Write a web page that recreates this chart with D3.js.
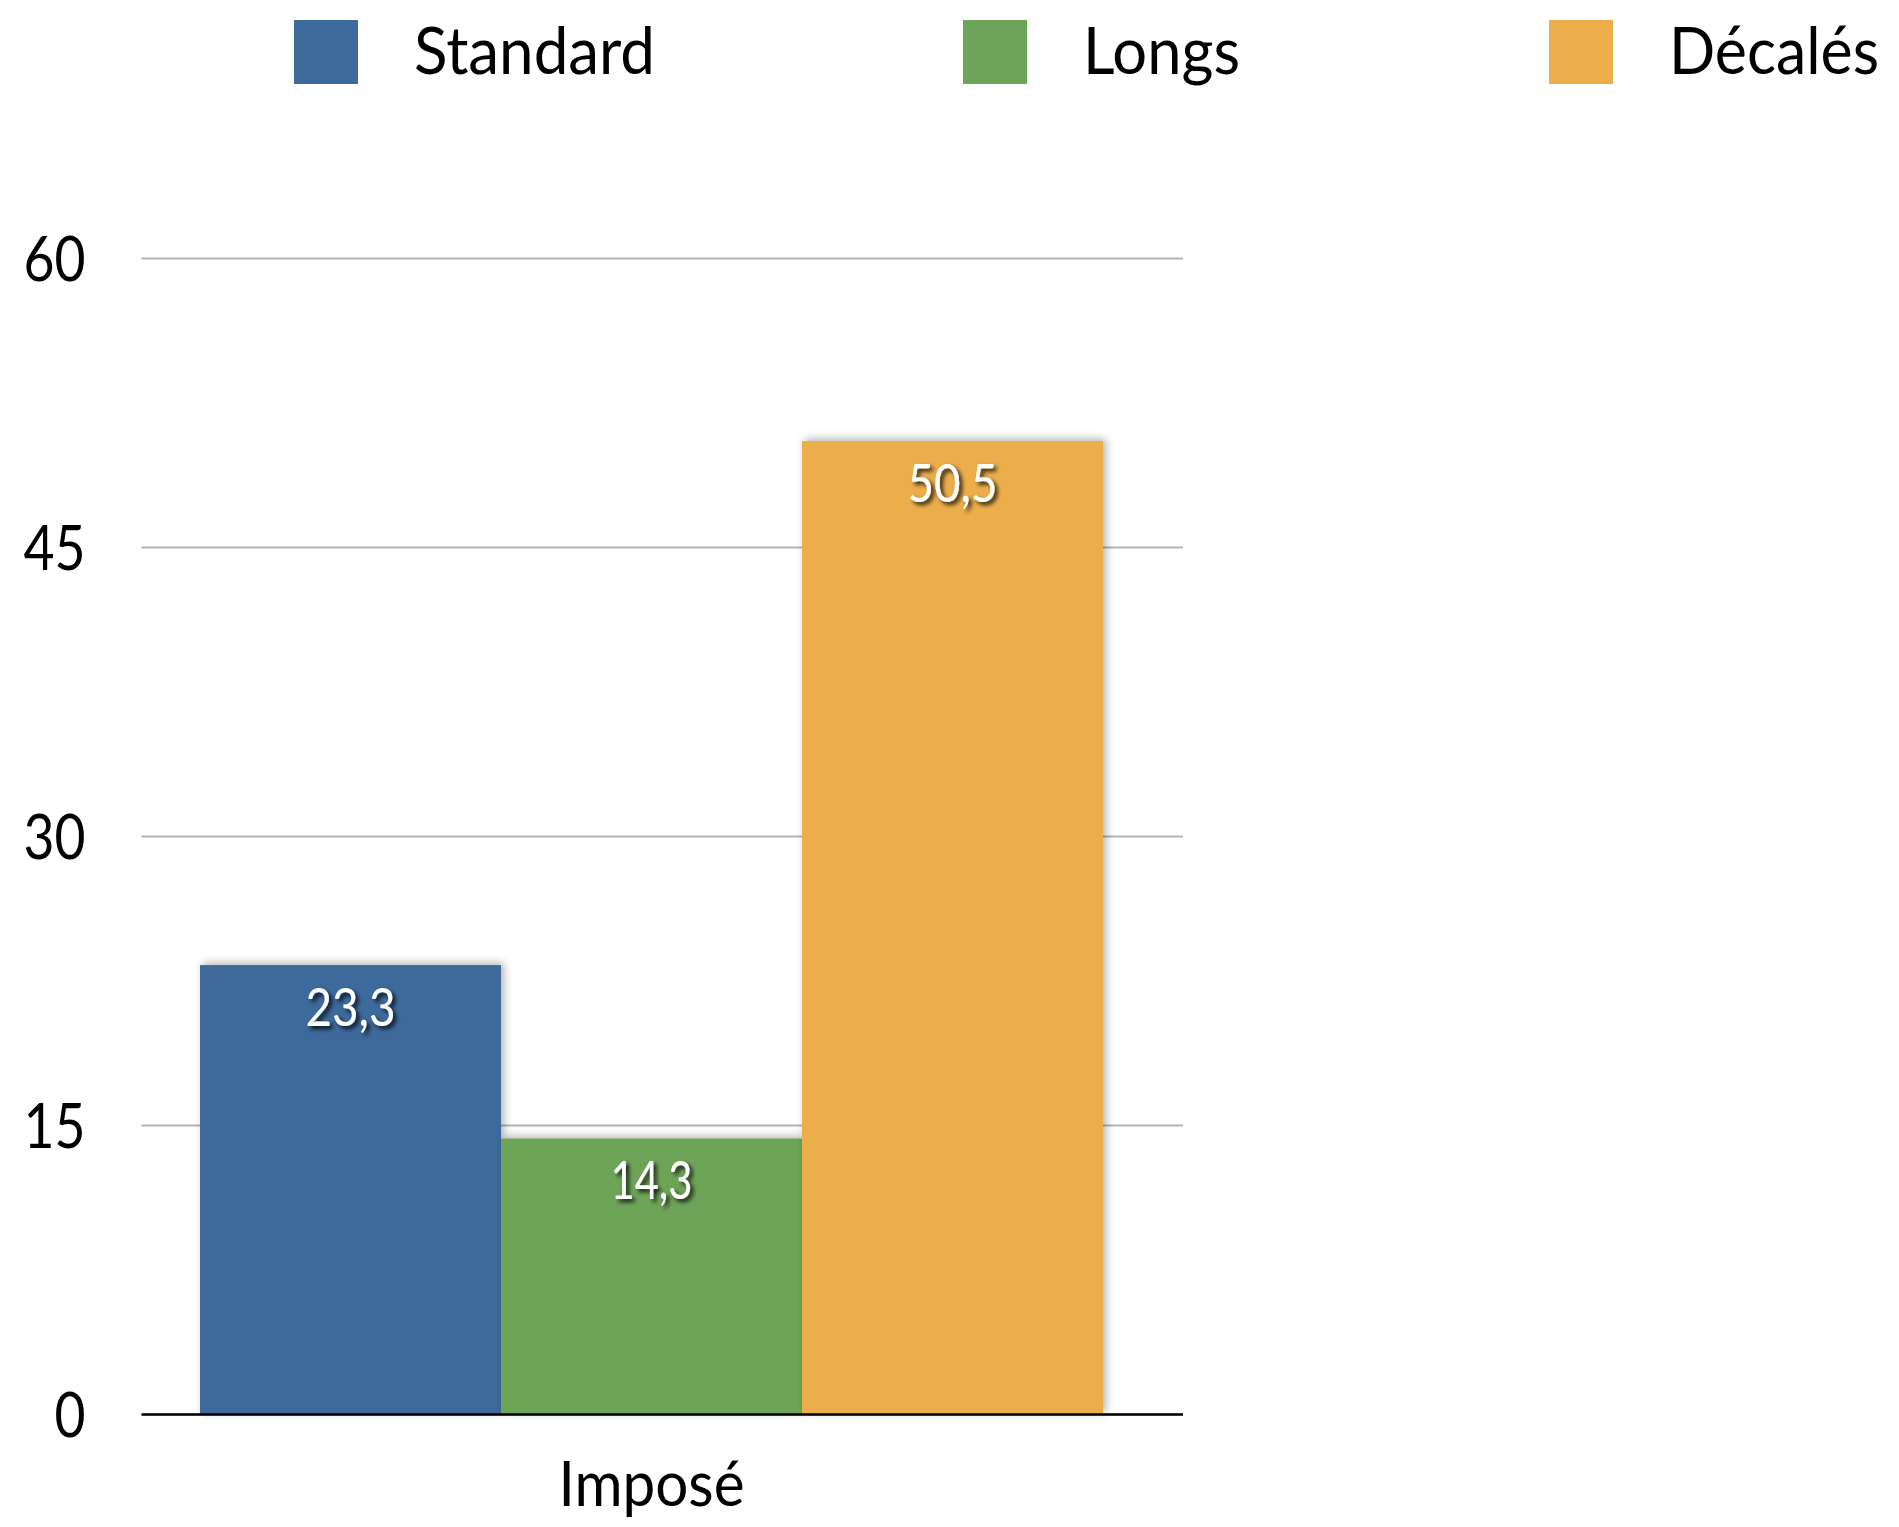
<!DOCTYPE html>
<html>
<head>
<meta charset="utf-8">
<script src="https://cdn.jsdelivr.net/npm/d3@7"></script>
<style>
  html, body { margin: 0; padding: 0; background: #ffffff; }
  svg { display: block; }
  text { font-family: Lato, "Open Sans", sans-serif; }
</style>
</head>
<body>
<svg id="chart" width="1899" height="1527"></svg>
<script>
// ---- data ----
const categories = ["Imposé"];
const series = ["Standard", "Longs", "Décalés"];
const values = [23.3, 14.3, 50.5];           // one value per series for "Imposé"
const valueLabels = ["23,3", "14,3", "50,5"];
const yTicks = [0, 15, 30, 45, 60];
const colors = ["#3d6b9b", "#6ea459", "#ecae4b"];

// ---- layout ----
const plotLeft = 141.5, plotRight = 1183;
const svg = d3.select("#chart");

const defs = svg.append("defs");
const barShadow = defs.append("filter").attr("id", "barShadow")
  .attr("x", "-10%").attr("y", "-10%").attr("width", "130%").attr("height", "130%");
barShadow.append("feDropShadow").attr("dx", 3).attr("dy", -2)
  .attr("stdDeviation", 4).attr("flood-color", "#000").attr("flood-opacity", 0.3);
const txtShadow = defs.append("filter").attr("id", "txtShadow")
  .attr("x", "-20%").attr("y", "-30%").attr("width", "150%").attr("height", "170%");
txtShadow.append("feDropShadow").attr("dx", 3).attr("dy", 3)
  .attr("stdDeviation", 2).attr("flood-color", "#000").attr("flood-opacity", 0.85);

const y = d3.scaleLinear().domain([0, 60]).range([1414, 258]);
const x0 = d3.scaleBand().domain(categories).range([200, 1103]).padding(0);
const x1 = d3.scaleBand().domain(series).range([0, x0.bandwidth()]).padding(0);
const color = d3.scaleOrdinal().domain(series).range(colors);

// ---- y axis with gridlines ----
const yAxis = d3.axisLeft(y)
  .tickValues(yTicks)
  .tickSize(-(plotRight - plotLeft))
  .tickPadding(56)
  .tickFormat(d3.format("d"));
const gy = svg.append("g").attr("transform", `translate(${plotLeft},0)`).call(yAxis);
gy.select(".domain").remove();
gy.selectAll(".tick line").attr("stroke", "#b3b3b3").attr("stroke-width", 2);
gy.selectAll(".tick text")
  .attr("fill", "#000")
  .attr("font-size", 62)
  .attr("dy", "0.36em")
  .attr("textLength", d => (String(d).length * 31))
  .attr("lengthAdjust", "spacingAndGlyphs");

// ---- bars ----
const rows = series.map((s, i) => ({ cat: categories[0], series: s, value: values[i], label: valueLabels[i] }));
const g = svg.append("g");
g.selectAll("rect.bar").data(rows).enter().append("rect")
  .attr("class", "bar")
  .attr("x", d => x0(d.cat) + x1(d.series))
  .attr("y", d => y(d.value))
  .attr("width", x1.bandwidth())
  .attr("height", d => y(0) - y(d.value))
  .attr("fill", d => color(d.series))
  .attr("filter", "url(#barShadow)");

// value labels
g.selectAll("text.val").data(rows).enter().append("text")
  .attr("class", "val")
  .attr("x", d => x0(d.cat) + x1(d.series) + x1.bandwidth() / 2)
  .attr("y", d => y(d.value) + 61)
  .attr("text-anchor", "middle")
  .attr("font-size", 52)
  .attr("fill", "#ffffff")
  .attr("textLength", d => d.label === "14,3" ? 82 : 90)
  .attr("lengthAdjust", "spacingAndGlyphs")
  .attr("filter", "url(#txtShadow)")
  .text(d => d.label);

// zero baseline
svg.append("line")
  .attr("x1", plotLeft).attr("x2", plotRight)
  .attr("y1", y(0) + 0.5).attr("y2", y(0) + 0.5)
  .attr("stroke", "#000").attr("stroke-width", 2.5);

// ---- x axis label ----
const xAxis = d3.axisBottom(x0).tickSize(0).tickPadding(0);
const gx = svg.append("g").attr("transform", `translate(0,1506)`).call(xAxis);
gx.select(".domain").remove();
gx.selectAll(".tick text")
  .attr("fill", "#000")
  .attr("font-size", 62)
  .attr("dy", 0)
  .attr("y", 0)
  .attr("textLength", 186)
  .attr("lengthAdjust", "spacingAndGlyphs");

// ---- legend ----
const legendX = [294, 963, 1549];
const legendTextW = [241, 157, 210];
const lg = svg.append("g").selectAll("g").data(series).enter().append("g")
  .attr("transform", (d, i) => `translate(${legendX[i]},20)`);
lg.append("rect").attr("width", 64).attr("height", 64).attr("fill", d => color(d));
lg.append("text")
  .attr("x", 120).attr("y", 54)
  .attr("font-size", 66)
  .attr("fill", "#000")
  .attr("textLength", (d, i) => legendTextW[i])
  .attr("lengthAdjust", "spacingAndGlyphs")
  .text(d => d);
</script>
</body>
</html>
